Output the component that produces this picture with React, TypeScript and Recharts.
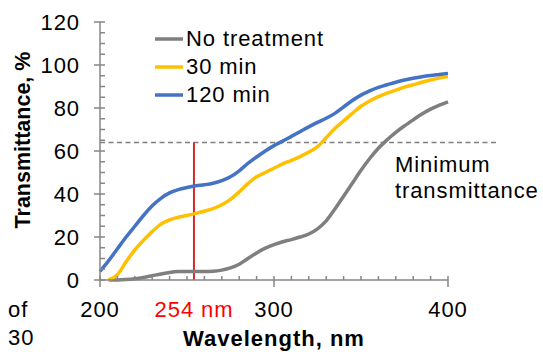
import { LineChart, Line, XAxis, YAxis, ReferenceLine, Legend, Customized } from "recharts";

const wavelengths = [
  200, 205, 210, 215, 220, 225, 230, 235, 240, 245, 250, 255, 260, 265, 270, 275, 280, 285, 290, 295,
  300, 305, 310, 315, 320, 325, 330, 335, 340, 345, 350, 355, 360, 365, 370, 375, 380, 385, 390, 395, 400,
];
const noTreatment = [
  null, 0, 0, 0.2, 0.6, 1.2, 2, 2.8, 3.5, 3.9, 4, 4, 4, 4.1, 4.6, 5.6, 7.3, 10, 12.6, 14.8,
  16.5, 17.8, 18.8, 20, 21.4, 23.8, 27.5, 33, 39, 45, 51, 56.5, 61.3, 65.2, 68.7, 71.7, 74.5, 77.2, 79.5, 81.3, 82.9,
];
const min30 = [
  null, 0, 2.5, 8.5, 14, 18.5, 22.5, 26, 28, 29.2, 30, 31, 32, 33.2, 35, 37.5, 41, 44.8, 48, 50,
  52, 54, 55.6, 57.4, 59.5, 62, 66.2, 70.5, 74, 77.5, 80.8, 83.3, 85.3, 86.9, 88.3, 89.7, 90.8, 92, 93, 93.9, 94.6,
];
const min120 = [
  4, 9, 14.5, 20, 25, 30, 34.5, 38, 40.5, 42, 43, 43.8, 44.3, 45, 46.2, 48, 50.8, 54.2, 57.2, 60,
  62.5, 64.6, 66.8, 69, 71.2, 73.3, 75.2, 77.5, 80.5, 83.5, 86, 88, 89.6, 90.8, 92, 93, 93.8, 94.5, 95.1, 95.6, 96.1,
];

const xTicks = wavelengths.filter((w) => w % 10 === 0);
const xLabels = [200, 300, 400];
const yTicks = Array.from({ length: 25 }, (_, i) => i * 5);
const yLabels = [0, 20, 40, 60, 80, 100, 120];

const minTransmittance = 64;
const markWavelength = 254;

const series = [
  { key: "none", name: "No treatment", color: "#7f7f7f" },
  { key: "m30", name: "30 min", color: "#ffc000" },
  { key: "m120", name: "120 min", color: "#4472c4" },
];

const data = wavelengths.map((w, i) => ({
  w,
  none: noTreatment[i],
  m30: min30[i],
  m120: min120[i],
}));

const FONT = "Liberation Sans, Arial, sans-serif";
const AXIS = "#868686";
const LS = 0.9; // text in the picture is a little wider than Arial

const XTick = (props: any) => {
  const { x, y, payload } = props;
  const major = xLabels.includes(payload.value);
  return (
    <g>
      <line x1={x} x2={x} y1={y - 4} y2={major ? y + 7 : y} stroke={AXIS} strokeWidth={1.5} />
      {major && (
        <text x={x} y={y + 37} textAnchor="middle" fontSize={22} letterSpacing={LS} fill="#000">
          {payload.value}
        </text>
      )}
    </g>
  );
};

const YTick = (props: any) => {
  const { x, y, payload } = props;
  const major = yLabels.includes(payload.value);
  return (
    <g>
      <line x1={major ? x - 6 : x} x2={x + 5} y1={y} y2={y} stroke={AXIS} strokeWidth={1.5} />
      {major && (
        <text x={x - 20} y={y} dy="0.36em" textAnchor="end" fontSize={22} letterSpacing={LS} fill="#000">
          {payload.value}
        </text>
      )}
    </g>
  );
};

const LegendBox = () => (
  <div style={{ fontFamily: FONT, fontSize: 22, letterSpacing: LS, color: "#000" }}>
    {series.map((s) => (
      <div key={s.key} style={{ display: "flex", alignItems: "center", height: 28 }}>
        <svg width={31} height={10}>
          <line x1={0} x2={28} y1={5} y2={5} stroke={s.color} strokeWidth={3.5} />
        </svg>
        <span style={{ lineHeight: "28px" }}>{s.name}</span>
      </div>
    ))}
  </div>
);

const Annotations = () => (
  <g fontFamily={FONT}>
    <text x={194} y={317} textAnchor="middle" fontSize={22} letterSpacing={LS} fill="#ff0000">
      {markWavelength} nm
    </text>
    <text x={395} y={172} fontSize={22} letterSpacing={LS} fill="#000">Minimum</text>
    <text x={395} y={198} fontSize={22} letterSpacing={LS} fill="#000">transmittance</text>
    <text x={22} y={140} transform="rotate(-90 22 140)" dy="0.36em" textAnchor="middle" fontSize={21.5} fontWeight="bold" fill="#000">
      Transmittance, %
    </text>
    <text x={274} y={346} textAnchor="middle" fontSize={22} letterSpacing={1} fontWeight="bold" fill="#000">
      Wavelength, nm
    </text>
    <text x={8} y={317} fontSize={22} letterSpacing={LS} fill="#000">of</text>
    <text x={8} y={345} fontSize={22} letterSpacing={LS} fill="#000">30</text>
  </g>
);

export default function App() {
  return (
    <div style={{ position: "absolute", left: 0, top: 0, background: "#fff" }}>
      <LineChart
        width={543}
        height={352}
        data={data}
        margin={{ top: 22, right: 95, left: 0, bottom: 0 }}
        style={{ fontFamily: FONT }}
      >
        <XAxis
          dataKey="w"
          type="number"
          domain={[200, 400]}
          ticks={xTicks}
          interval={0}
          height={72}
          tickSize={0}
          tickMargin={0}
          tickLine={false}
          tick={<XTick />}
          axisLine={{ stroke: AXIS, strokeWidth: 1.5 }}
        />
        <YAxis
          type="number"
          domain={[0, 120]}
          ticks={yTicks}
          interval={0}
          width={100}
          tickSize={0}
          tickMargin={0}
          tickLine={false}
          tick={<YTick />}
          axisLine={{ stroke: AXIS, strokeWidth: 1.5 }}
        />
        <ReferenceLine
          segment={[
            { x: 200, y: minTransmittance },
            { x: 428, y: minTransmittance },
          ]}
          stroke="#7f7f7f"
          strokeWidth={1.5}
          strokeDasharray="5 3.5"
          ifOverflow="visible"
        />
        <ReferenceLine
          segment={[
            { x: markWavelength, y: 0 },
            { x: markWavelength, y: minTransmittance },
          ]}
          stroke="#d42a2a"
          strokeWidth={2}
          ifOverflow="visible"
        />
        {series.map((s) => (
          <Line
            key={s.key}
            dataKey={s.key}
            name={s.name}
            type="monotone"
            stroke={s.color}
            strokeWidth={3.5}
            dot={false}
            connectNulls
            isAnimationActive={false}
          />
        ))}
        <Legend
          layout="vertical"
          verticalAlign="middle"
          align="center"
          content={<LegendBox />}
          wrapperStyle={{ top: 25, left: 155, width: "auto", height: "auto" }}
        />
        <Customized component={Annotations} />
      </LineChart>
    </div>
  );
}
